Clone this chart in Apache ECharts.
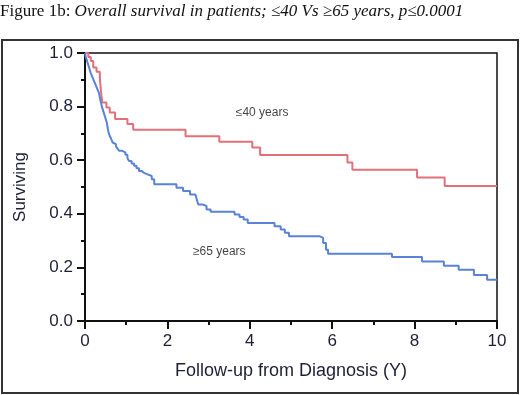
<!DOCTYPE html>
<html>
<head>
<meta charset="utf-8">
<script src="https://cdn.jsdelivr.net/npm/echarts@6/dist/echarts.min.js"></script>
<style>
  html, body { margin: 0; padding: 0; background: #fff; }
  #chart { width: 520px; height: 395px; }
</style>
</head>
<body>
<div id="chart"></div>
<script>
// Kaplan-Meier steps (time in years, survival fraction)
var youngTimes = [0, 0.08, 0.14, 0.2, 0.28, 0.36, 0.38, 0.4, 0.42, 0.52, 0.6, 0.73, 1.03, 1.17, 2.44, 3.26, 4.06, 4.25, 6.37, 6.49, 8.06, 8.73, 10];
var youngSurv  = [1.0, 0.985, 0.97, 0.946, 0.93, 0.909, 0.87, 0.84, 0.815, 0.797, 0.778, 0.754, 0.735, 0.714, 0.689, 0.669, 0.647, 0.619, 0.591, 0.564, 0.535, 0.504, 0.504];

var oldTimes = [0, 0.02, 0.05, 0.08, 0.11, 0.14, 0.18, 0.22, 0.26, 0.3, 0.34, 0.36, 0.38, 0.41, 0.44, 0.47, 0.5, 0.53, 0.55, 0.57, 0.6, 0.64, 0.67, 0.71, 0.75, 0.79, 0.83, 0.9, 0.98, 1.03, 1.07, 1.13, 1.19, 1.25, 1.31, 1.37, 1.43, 1.52, 1.62, 1.68, 2.22, 2.38, 2.55, 2.68, 2.72, 2.75, 2.85, 2.95, 3.05, 3.63, 3.75, 3.85, 3.95, 4.6, 4.75, 4.85, 4.95, 5.7, 5.78, 5.85, 5.9, 7.45, 8.18, 8.71, 9.07, 9.44, 9.76, 10];
var oldSurv  = [1.0, 0.985, 0.97, 0.955, 0.94, 0.925, 0.91, 0.895, 0.88, 0.865, 0.85, 0.835, 0.82, 0.8, 0.785, 0.77, 0.755, 0.74, 0.72, 0.705, 0.69, 0.678, 0.666, 0.66, 0.652, 0.643, 0.635, 0.629, 0.62, 0.607, 0.597, 0.588, 0.579, 0.57, 0.56, 0.553, 0.547, 0.541, 0.529, 0.51, 0.497, 0.485, 0.472, 0.466, 0.45, 0.435, 0.429, 0.416, 0.408, 0.397, 0.388, 0.379, 0.366, 0.354, 0.341, 0.329, 0.316, 0.31, 0.291, 0.266, 0.251, 0.239, 0.222, 0.206, 0.191, 0.172, 0.154, 0.154];

var xTicks = [0, 2, 4, 6, 8, 10];
var yTicks = [0, 0.2, 0.4, 0.6, 0.8, 1.0];

var curveLabels = ['≤40 years', '≥65 years'];
var labelX = [4.3, 3.26];
var labelY = [0.776, 0.26];

function pairs(xs, ys) {
  return xs.map(function (x, i) { return [x, ys[i]]; });
}

var chart = echarts.init(document.getElementById('chart'));

var tickFont = { fontFamily: 'Liberation Sans', fontSize: 17, color: '#1e1e36' };

var option = {
  animation: false,
  backgroundColor: '#fff',
  title: {
    left: 0,
    top: 0,
    padding: [3, 0, 0, 0],
    text: '{a|Figure 1b: }{b|Overall survival in patients; ≤40 Vs ≥65 years, p≤0.0001}',
    textStyle: {
      fontWeight: 'normal',
      rich: {
        a: { fontFamily: 'Liberation Serif', fontSize: 17, fontWeight: 'normal', color: '#111' },
        b: { fontFamily: 'Liberation Serif', fontSize: 17, fontWeight: 'normal', fontStyle: 'italic', color: '#111' }
      }
    }
  },
  graphic: [{
    type: 'rect',
    shape: { x: 2, y: 40, width: 516, height: 353 },
    style: { fill: 'none', stroke: '#333', lineWidth: 2 },
    silent: true
  }],
  grid: {
    left: 85, right: 23, top: 53, bottom: 74,
    show: true, borderColor: '#111', borderWidth: 1.5, backgroundColor: 'transparent'
  },
  xAxis: {
    type: 'value',
    min: xTicks[0], max: xTicks[xTicks.length - 1], interval: 2,
    name: 'Follow-up from Diagnosis (Y)',
    nameLocation: 'middle',
    nameGap: 41,
    nameTextStyle: { fontFamily: 'Liberation Sans', fontSize: 18, color: '#1e1e36' },
    axisLine: { lineStyle: { color: '#111', width: 2 } },
    axisTick: { length: 8, lineStyle: { color: '#111', width: 2 } },
    minorTick: { show: true, splitNumber: 2, length: 4, lineStyle: { color: '#111', width: 2 } },
    splitLine: { show: false },
    axisLabel: Object.assign({ margin: 12 }, tickFont)
  },
  yAxis: {
    type: 'value',
    min: yTicks[0], max: yTicks[yTicks.length - 1], interval: 0.2,
    name: 'Surviving',
    nameLocation: 'middle',
    nameGap: 56,
    nameTextStyle: { fontFamily: 'Liberation Sans', fontSize: 17, color: '#1e1e36' },
    axisLine: { show: true, lineStyle: { color: '#111', width: 2 } },
    axisTick: { show: true, length: 8, lineStyle: { color: '#111', width: 2 } },
    minorTick: { show: true, splitNumber: 2, length: 4, lineStyle: { color: '#111', width: 2 } },
    splitLine: { show: false },
    axisLabel: Object.assign({ margin: 12, formatter: function (v) { return v.toFixed(1); } }, tickFont)
  },
  series: [
    {
      name: '≤40',
      type: 'line',
      step: 'end',
      symbol: 'none',
      lineStyle: { color: '#e2707a', width: 2 },
      data: pairs(youngTimes, youngSurv)
    },
    {
      name: '≥65',
      type: 'line',
      step: 'end',
      symbol: 'none',
      lineStyle: { color: '#5a82d6', width: 2 },
      data: pairs(oldTimes, oldSurv)
    },
    {
      type: 'scatter',
      symbolSize: 1,
      itemStyle: { color: 'transparent' },
      label: {
        show: true, position: 'inside',
        fontFamily: 'Liberation Sans', fontSize: 12, color: '#111',
        formatter: function (p) { return p.value[2]; }
      },
      data: curveLabels.map(function (t, i) { return [labelX[i], labelY[i], t]; })
    }
  ]
};

chart.setOption(option);
</script>
</body>
</html>
